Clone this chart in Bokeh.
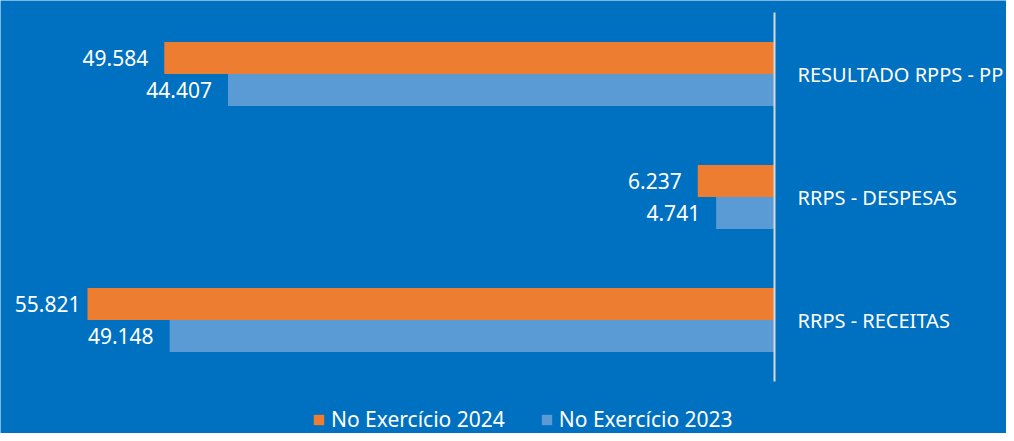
from bokeh.plotting import figure
from bokeh.models import ColumnDataSource, Range1d, Legend, LegendItem
from bokeh.transform import dodge
from bokeh.embed import file_html
from bokeh.resources import INLINE
from bokeh.core.properties import value

# ---- data ----
categories = ["RESULTADO RPPS - PP", "RRPS - DESPESAS", "RRPS - RECEITAS"]
values_2024 = [49584, 6237, 55821]
values_2023 = [44407, 4741, 49148]
series_names = ["No Exercício 2024", "No Exercício 2023"]

BG = "#0070C0"
ORANGE = "#ED7D31"
LIGHTBLUE = "#5B9BD5"
AXIS = "#D9D9D9"
FONT = "Noto Sans"

n = len(categories)
ypos = [n - 1 - i for i in range(n)]  # first category on top


def fmt(v):
    return f"{v:,}".replace(",", ".")


def offs(vals):
    return [-7 if v > 52000 else -16 for v in vals]


src = ColumnDataSource(dict(
    y=ypos,
    cat=categories,
    zero=[0] * n,
    v24=values_2024,
    v23=values_2023,
    t24=[fmt(v) for v in values_2024],
    t23=[fmt(v) for v in values_2023],
    o24=offs(values_2024),
    o23=offs(values_2023),
))

BAND = 123.0          # px per category band
PX_PER_UNIT = 687 / 55821  # horizontal scale
W, H = 1006, 433
ZERO_PX = 774         # where the value axis (0) sits

p = figure(
    title=None,
    frame_width=W, frame_height=H,
    y_range=Range1d(start=-0.5 - 52 / BAND, end=n - 0.5 + 12 / BAND),
    x_range=Range1d(start=ZERO_PX / PX_PER_UNIT, end=-(W - ZERO_PX) / PX_PER_UNIT),
    x_axis_location=None, y_axis_location=None,
    output_backend="svg", toolbar_location=None,
    min_border=0,
)
p.background_fill_color = BG
p.border_fill_color = BG
p.outline_line_color = None
p.xgrid.grid_line_color = None
p.ygrid.grid_line_color = None

r24 = p.hbar(y=dodge("y", 0.13), left="v24", right=0, height=0.26,
             fill_color=ORANGE, line_color=None, source=src)
r23 = p.hbar(y=dodge("y", -0.13), left="v23", right=0, height=0.26,
             fill_color=LIGHTBLUE, line_color=None, source=src)

p.text(x="v24", y=dodge("y", 0.13), text="t24", x_offset="o24",
       text_align="right", text_baseline="middle", text_color="white",
       text_font=value(FONT), text_font_size="21px", source=src)
p.text(x="v23", y=dodge("y", -0.13), text="t23", x_offset="o23",
       text_align="right", text_baseline="middle", text_color="white",
       text_font=value(FONT), text_font_size="21px", source=src)

# category axis line (only over the category bands)
p.segment(x0=0, y0=-0.5, x1=0, y1=n - 0.5, line_color=AXIS, line_width=2)

# category labels, right of the axis line
p.text(x="zero", y="y", text="cat", x_offset=23,
       text_align="left", text_baseline="middle", text_color="white",
       text_font=value(FONT), text_font_size="20px", source=src)

legend = Legend(
    items=[LegendItem(label=series_names[0], renderers=[r24]),
           LegendItem(label=series_names[1], renderers=[r23])],
    orientation="horizontal",
    location=(312, 0),
    glyph_width=13, glyph_height=13,
    label_standoff=6, spacing=35, padding=0, margin=0,
    label_text_color="white", label_text_font=FONT, label_text_font_size="21px",
    background_fill_alpha=0, border_line_color=None,
)
p.add_layout(legend, "center")

open("out.html", "w").write(file_html(p, INLINE))
